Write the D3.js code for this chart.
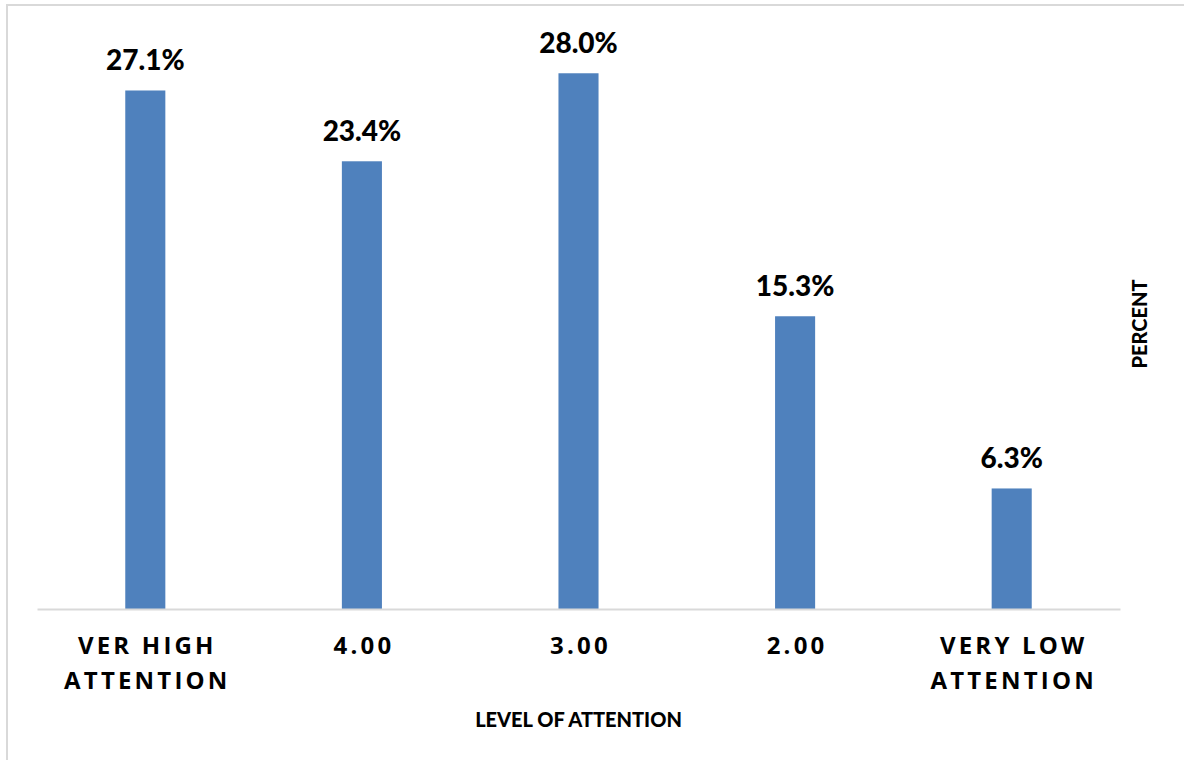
<!DOCTYPE html>
<html>
<head>
<meta charset="utf-8">
<script src="https://cdn.jsdelivr.net/npm/d3@7"></script>
<style>
  html, body { margin: 0; padding: 0; background: #fff; }
  svg { display: block; }
</style>
</head>
<body>
<svg id="chart" width="1184" height="760"></svg>
<script>
// Attention levels and the share of respondents in each
const categories = [["VER HIGH", "ATTENTION"], ["4.00"], ["3.00"], ["2.00"], ["VERY LOW", "ATTENTION"]];
const percents = [27.1, 23.4, 28.0, 15.3, 6.3];
const xTitle = "LEVEL OF ATTENTION";
const yTitle = "PERCENT";

const svg = d3.select("#chart");
const W = 1184, H = 760;

// outer frame (only top and left edges fall inside the view)
svg.append("rect")
  .attr("x", 7).attr("y", 5)
  .attr("width", W + 20).attr("height", H + 20)
  .attr("fill", "none")
  .attr("stroke", "#d9d9d9")
  .attr("stroke-width", 2);

const plot = { left: 37, right: 1120, top: 35, bottom: 609 };

const x = d3.scaleBand()
  .domain(d3.range(categories.length))
  .range([plot.left, plot.right])
  .paddingInner(0.815)
  .paddingOuter(0.4075);

const y = d3.scaleLinear()
  .domain([0, 30])
  .range([plot.bottom, plot.top]);

// bars
svg.append("g").selectAll("rect")
  .data(percents)
  .join("rect")
  .attr("x", (d, i) => x(i))
  .attr("y", d => y(d))
  .attr("width", x.bandwidth())
  .attr("height", d => y(0) - y(d))
  .attr("fill", "#4f81bd");

// value labels
svg.append("g").selectAll("text")
  .data(percents)
  .join("text")
  .attr("x", (d, i) => x(i) + x.bandwidth() / 2)
  .attr("y", d => y(d) - 20)
  .attr("text-anchor", "middle")
  .attr("font-family", "Lato, sans-serif")
  .attr("font-weight", 900)
  .attr("font-size", 28)
  .attr("fill", "#000")
  .text(d => d.toFixed(1) + "%");

// category axis
const xAxis = d3.axisBottom(x).tickSize(0).tickFormat("");
const gx = svg.append("g")
  .attr("transform", `translate(0,${plot.bottom})`)
  .call(xAxis);
gx.select(".domain").attr("stroke", "#d9d9d9").attr("stroke-width", 2);

const tickText = gx.selectAll(".tick")
  .append("text")
  .attr("text-anchor", "middle")
  .attr("font-family", "'Open Sans', sans-serif")
  .attr("font-weight", "bold")
  .attr("font-size", 24)
  .attr("letter-spacing", 3.2)
  .attr("fill", "#000");
tickText.selectAll("tspan")
  .data(i => categories[i])
  .join("tspan")
  .attr("x", 2)
  .attr("y", (d, j) => 45 + j * 35)
  .text(d => d);

// axis titles
svg.append("text")
  .attr("x", (plot.left + plot.right) / 2)
  .attr("y", 727)
  .attr("text-anchor", "middle")
  .attr("font-family", "Lato, sans-serif")
  .attr("font-weight", 900)
  .attr("font-size", 20)
  .attr("fill", "#000")
  .text(xTitle);

svg.append("text")
  .attr("transform", "translate(1147,324) rotate(-90)")
  .attr("text-anchor", "middle")
  .attr("font-family", "Lato, sans-serif")
  .attr("font-weight", 900)
  .attr("font-size", 20)
  .attr("fill", "#000")
  .text(yTitle);
</script>
</body>
</html>
